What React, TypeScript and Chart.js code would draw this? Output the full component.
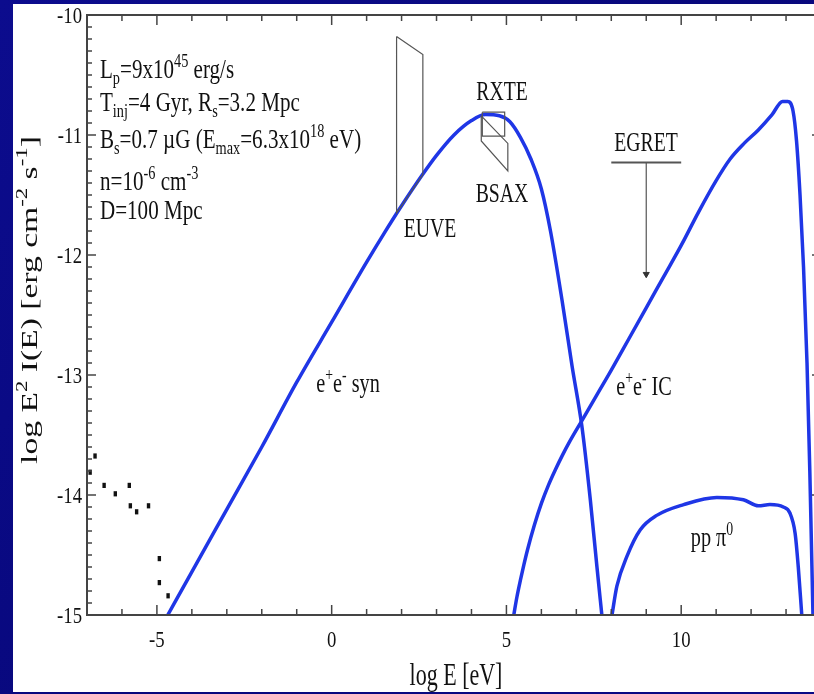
import React, { useEffect, useRef } from 'react';
import { Chart, registerables } from 'chart.js';

Chart.register(...registerables);

// ---- data (log E [eV], log E^2 I(E)) ----
const synLogE = [-4.69, -4, -3, -2, -1, 0, 1, 1.5, 2, 2.6, 3, 3.5, 4, 4.4, 4.8, 5.1, 5.4, 5.7, 6.0, 6.26, 6.59, 6.88, 7.16, 7.4, 7.59, 7.73];
const synLogI = [-15, -14.64, -14.12, -13.6, -13.06, -12.56, -12.06, -11.82, -11.59, -11.33, -11.17, -11.0, -10.88, -10.83, -10.84, -10.89, -11.02, -11.2, -11.45, -11.8, -12.375, -12.93, -13.43, -14.04, -14.6, -15];

const icLogE = [5.21, 5.3, 5.4, 5.5, 5.6, 5.8, 6.0, 6.2, 6.4, 6.6, 6.8, 7.16, 7.6, 8.0, 8.5, 9.0, 9.5, 10.0, 10.5, 11.0, 11.4, 11.8, 12.2, 12.6, 12.9, 13.05, 13.2, 13.3, 13.4, 13.5, 13.6, 13.68, 13.77];
const icLogI = [-15, -14.85, -14.71, -14.58, -14.46, -14.25, -14.07, -13.92, -13.79, -13.67, -13.56, -13.38, -13.16, -12.96, -12.7, -12.44, -12.18, -11.92, -11.64, -11.38, -11.2, -11.07, -10.96, -10.83, -10.72, -10.72, -10.8, -11.05, -11.5, -12.1, -12.9, -13.8, -15];

const ppLogE = [8.02, 8.16, 8.45, 8.83, 9.3, 10.07, 11.02, 11.78, 12.21, 12.54, 12.92, 13.11, 13.26, 13.35, 13.45];
const ppLogI = [-15, -14.76, -14.51, -14.29, -14.17, -14.08, -14.02, -14.04, -14.09, -14.08, -14.1, -14.15, -14.32, -14.6, -15];

const obsLogE = [-6.77, -6.91, -6.51, -6.19, -5.79, -5.76, -5.58, -5.24, -4.93, -4.93, -4.68];
const obsLogI = [-13.675, -13.81, -13.92, -13.99, -13.92, -14.09, -14.14, -14.09, -14.53, -14.73, -14.84];

const euveLogE = [1.857, 2.609, 2.609, 1.857, 1.857];
const euveLogI = [-10.18, -10.33, -11.33, -11.65, -10.18];
const rxteLogE = [4.31, 4.95, 4.95, 4.31, 4.31];
const rxteLogI = [-10.81, -10.81, -11.01, -11.01, -10.81];
const bsaxLogE = [4.28, 5.04, 5.04, 4.28, 4.28];
const bsaxLogI = [-10.84, -11.07, -11.3, -11.05, -10.84];
const egretBarLogE = [8.0, 10.0];
const egretBarLogI = [-11.23, -11.23];
const egretArrowLogE = [9.0, 9.0];
const egretArrowLogI = [-11.23, -12.16];

const xTickValues = [-5, 0, 5, 10];
const xTickLabels = ['-5', '0', '5', '10'];
const yTickValues = [-10, -11, -12, -13, -14, -15];
const yTickLabels = ['-10', '-11', '-12', '-13', '-14', '-15'];

type Seg = { t: string; s?: 'sup' | 'sub' };

const annotationLines: Seg[][] = [
  [{ t: 'L' }, { t: 'p', s: 'sub' }, { t: '=9x10' }, { t: '45', s: 'sup' }, { t: ' erg/s' }],
  [{ t: 'T' }, { t: 'inj', s: 'sub' }, { t: '=4 Gyr, R' }, { t: 's', s: 'sub' }, { t: '=3.2 Mpc' }],
  [{ t: 'B' }, { t: 's', s: 'sub' }, { t: '=0.7 \u00b5G (E' }, { t: 'max', s: 'sub' }, { t: '=6.3x10' }, { t: '18', s: 'sup' }, { t: ' eV)' }],
  [{ t: 'n=10' }, { t: '-6', s: 'sup' }, { t: ' cm' }, { t: '-3', s: 'sup' }],
  [{ t: 'D=100 Mpc' }],
];

const synLabel: Seg[] = [{ t: 'e' }, { t: '+', s: 'sup' }, { t: 'e' }, { t: '-', s: 'sup' }, { t: ' syn' }];
const icLabel: Seg[] = [{ t: 'e' }, { t: '+', s: 'sup' }, { t: 'e' }, { t: '-', s: 'sup' }, { t: ' IC' }];
const ppLabel: Seg[] = [{ t: 'pp \u03c0' }, { t: '0', s: 'sup' }];
const yTitle: Seg[] = [{ t: 'log E' }, { t: '2', s: 'sup' }, { t: ' I(E) [erg cm' }, { t: '-2', s: 'sup' }, { t: ' s' }, { t: '-1', s: 'sup' }, { t: ']' }];
const xTitle: Seg[] = [{ t: 'log E [eV]' }];

const BLUE = '#1f36e6';
const FONT = '"Liberation Serif", "Times New Roman", serif';

const pts = (xs: number[], ys: number[]) => xs.map((x, i) => ({ x, y: ys[i] }));

function drawRich(
  ctx: CanvasRenderingContext2D,
  segs: Seg[],
  x: number,
  y: number,
  F: number,
  sx: number,
  align: 'left' | 'center' | 'right',
  rot = 0
) {
  ctx.save();
  ctx.translate(x, y);
  if (rot) ctx.rotate(rot);
  ctx.scale(sx, 1);
  let w = 0;
  for (const s of segs) {
    ctx.font = `${s.s ? F * 0.68 : F}px ${FONT}`;
    w += ctx.measureText(s.t).width;
  }
  let cx = align === 'left' ? 0 : align === 'center' ? -w / 2 : -w;
  ctx.textAlign = 'left';
  ctx.textBaseline = 'alphabetic';
  ctx.fillStyle = '#111';
  for (const s of segs) {
    ctx.font = `${s.s ? F * 0.68 : F}px ${FONT}`;
    const dy = s.s === 'sup' ? -F * 0.42 : s.s === 'sub' ? F * 0.22 : 0;
    ctx.fillText(s.t, cx, dy);
    cx += ctx.measureText(s.t).width;
  }
  ctx.restore();
}

const framePlugin = {
  id: 'framePlugin',
  beforeDraw(chart: any) {
    const ctx: CanvasRenderingContext2D = chart.ctx;
    ctx.save();
    const g = ctx.createLinearGradient(0, 0, chart.width, chart.height);
    g.addColorStop(0, '#0c0c8e');
    g.addColorStop(0.5, '#08087c');
    g.addColorStop(1, '#0a0a86');
    ctx.fillStyle = g;
    ctx.fillRect(0, 0, chart.width, chart.height);
    ctx.fillStyle = '#ffffff';
    ctx.fillRect(13, 4, chart.width - 13, 688);
    ctx.restore();
  },
  afterDraw(chart: any) {
    const ctx: CanvasRenderingContext2D = chart.ctx;
    const { left, right, top, bottom } = chart.chartArea;
    const xs = chart.scales.x;
    const ys = chart.scales.y;
    ctx.save();
    ctx.strokeStyle = '#444';
    ctx.lineWidth = 1.5;
    const line = (a: number, b: number, c: number, d: number) => {
      ctx.beginPath();
      ctx.moveTo(a, b);
      ctx.lineTo(c, d);
      ctx.stroke();
    };
    for (let v = -7; v <= 14; v++) {
      const px = xs.getPixelForValue(v);
      const L = v % 5 === 0 ? 10 : 6;
      line(px, bottom, px, bottom - L);
      line(px, top, px, top + L);
    }
    for (let i = 0; i <= 50; i++) {
      const py = ys.getPixelForValue(-15 + i * 0.1);
      const L = i % 10 === 0 ? 9 : 5;
      line(left, py, left + L, py);
      line(right, py, right - L, py);
    }
    ctx.lineWidth = 2;
    ctx.strokeRect(left, top, right - left, bottom - top);

    // tick labels
    xTickValues.forEach((v, i) => {
      drawRich(ctx, [{ t: xTickLabels[i] }], xs.getPixelForValue(v), bottom + 32, 24, 0.78, 'center');
    });
    yTickValues.forEach((v, i) => {
      drawRich(ctx, [{ t: yTickLabels[i] }], left - 5, ys.getPixelForValue(v) + 8, 24, 0.78, 'right');
    });
    // axis titles
    drawRich(ctx, xTitle, 456, 685, 31, 0.71, 'center');
    drawRich(ctx, yTitle, 37, 300, 24, 1.4, 'center', -Math.PI / 2);

    // annotation block
    const baselines = [78, 111, 148, 190, 219];
    annotationLines.forEach((segs, i) => drawRich(ctx, segs, 100, baselines[i], 27, 0.78, 'left'));

    // labels
    drawRich(ctx, [{ t: 'RXTE' }], 502, 100, 27, 0.73, 'center');
    drawRich(ctx, [{ t: 'BSAX' }], 502, 202, 27, 0.73, 'center');
    drawRich(ctx, [{ t: 'EUVE' }], 430, 237, 27, 0.73, 'center');
    drawRich(ctx, [{ t: 'EGRET' }], 646, 151, 27, 0.73, 'center');
    drawRich(ctx, synLabel, 348, 392, 27, 0.75, 'center');
    drawRich(ctx, icLabel, 644, 395, 27, 0.75, 'center');
    drawRich(ctx, ppLabel, 712, 546, 27, 0.75, 'center');
    ctx.restore();
  },
};

export default function App() {
  const ref = useRef<HTMLCanvasElement | null>(null);
  useEffect(() => {
    if (!ref.current) return;
    const curve = (xs: number[], ys: number[]) => ({
      data: pts(xs, ys),
      showLine: true,
      borderColor: BLUE,
      borderWidth: 3.5,
      pointRadius: 0,
      cubicInterpolationMode: 'monotone' as const,
    });
    const outline = (xs: number[], ys: number[]) => ({
      data: pts(xs, ys),
      showLine: true,
      borderColor: '#555',
      borderWidth: 1.2,
      pointRadius: 0,
      tension: 0,
    });
    const chart = new Chart(ref.current, {
      type: 'scatter',
      data: {
        datasets: [
          outline(euveLogE, euveLogI),
          outline(rxteLogE, rxteLogI),
          outline(bsaxLogE, bsaxLogI),
          { ...outline(egretBarLogE, egretBarLogI), borderWidth: 2 },
          {
            ...outline(egretArrowLogE, egretArrowLogI),
            pointRadius: [0, 3.5],
            pointStyle: 'triangle',
            rotation: 180,
            pointBackgroundColor: '#333',
            pointBorderColor: '#333',
            pointBorderWidth: 1,
          } as any,
          curve(synLogE, synLogI),
          curve(icLogE, icLogI),
          curve(ppLogE, ppLogI),
          {
            data: pts(obsLogE, obsLogI),
            showLine: false,
            pointStyle: 'line',
            rotation: 90,
            pointRadius: 2.6,
            borderWidth: 3.4,
            borderColor: '#111',
            backgroundColor: '#111',
          } as any,
        ],
      },
      options: {
        animation: false,
        responsive: false,
        maintainAspectRatio: false,
        devicePixelRatio: 1,
        events: [],
        layout: { padding: { left: 87, top: 15, right: 9, bottom: 79 } },
        scales: {
          x: { type: 'linear', min: -7, max: 14, display: false },
          y: { type: 'linear', min: -15, max: -10, display: false },
        },
        plugins: { legend: { display: false }, tooltip: { enabled: false } },
      },
      plugins: [framePlugin],
    });
    return () => chart.destroy();
  }, []);
  return (
    <div
      style={{
        position: 'fixed',
        left: 0,
        top: 0,
        width: 814,
        height: 694,
        overflow: 'hidden',
        background: '#08087c',
      }}
    >
      <canvas ref={ref} width={830} height={694} style={{ display: 'block', width: 830, height: 694 }} />
    </div>
  );
}
